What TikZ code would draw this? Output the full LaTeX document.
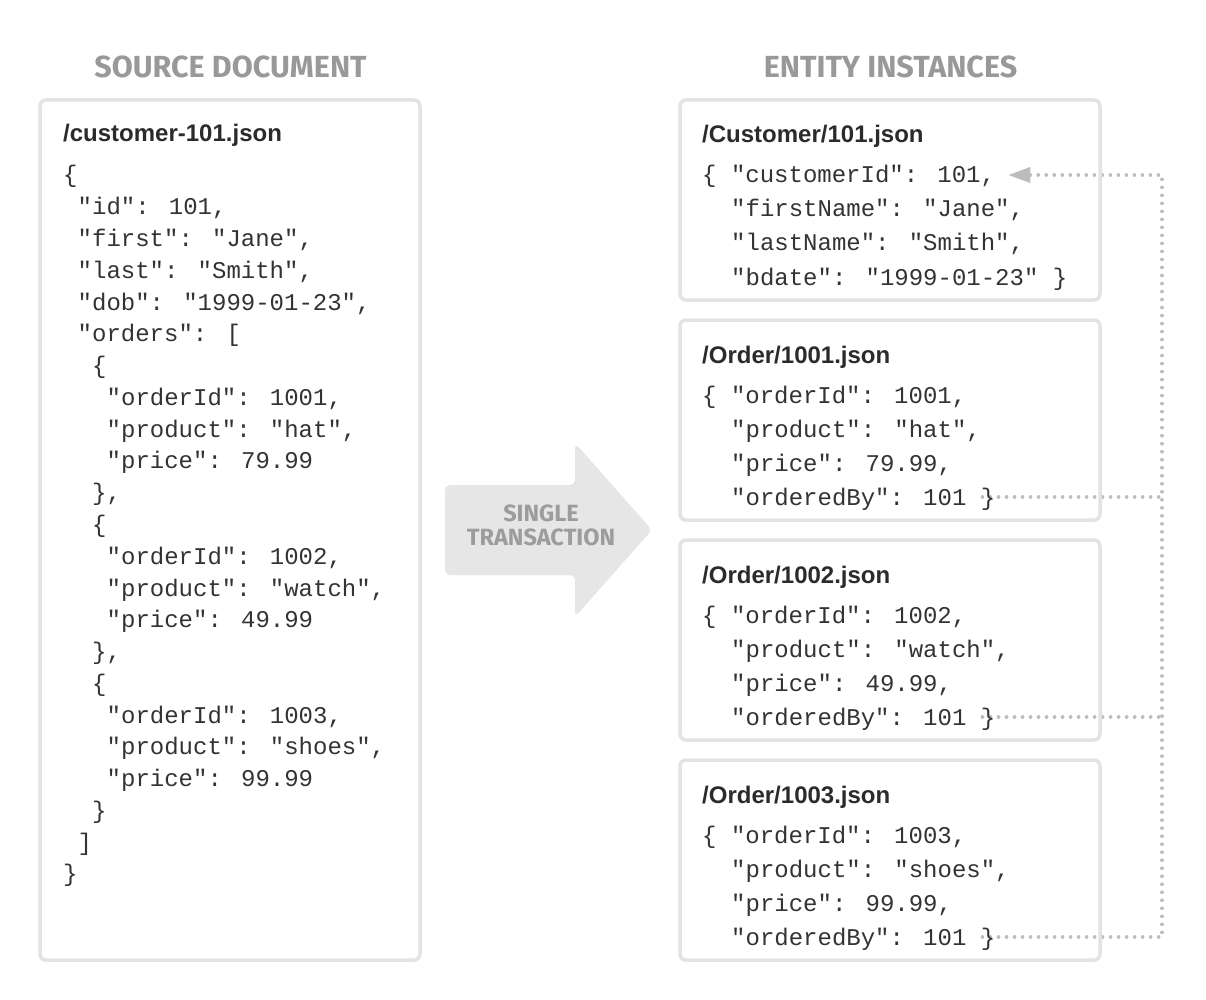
\documentclass[tikz,border=0pt]{standalone}
\usepackage{fontspec}
\setmainfont{Liberation Sans}
\newfontfamily\monof{Liberation Mono}
\newfontfamily\headf{Fira Sans}
\usetikzlibrary{arrows.meta,backgrounds}
\definecolor{boxline}{HTML}{E3E3E3}
\definecolor{codec}{HTML}{333333}
\definecolor{titlec}{HTML}{2B2B2B}
\definecolor{headc}{HTML}{999999}
\definecolor{arrowfill}{HTML}{E6E6E6}
\definecolor{arrowtext}{HTML}{9C9C9C}
\definecolor{connc}{HTML}{BDBDBD}
% source line: name, indent, line index, text
\newcommand\srcl[4]{\node[code] (#1) at ({63+14.5*#2},{183+31.77*#3}) {#4};}
% entity line: name, box index, line index, indent, text
\newcommand\entl[5]{\node[code] (#1) at ({702+14.5*#4},{183+220*#2+34*#3}) {#5};}
\begin{document}
\begin{tikzpicture}[x=1pt,y=-1pt,
  panel/.style={draw=boxline,line width=3.5pt,rounded corners=6pt,inner sep=0pt,outer sep=0pt,anchor=north west},
  head/.style={font=\headf\bfseries\fontsize{30.5}{30.5}\selectfont,text=headc,inner sep=0pt,anchor=base},
  title/.style={font=\bfseries\fontsize{24}{24}\selectfont,text=titlec,inner sep=0pt,anchor=base west},
  code/.style={font=\monof\fontsize{24}{24}\selectfont,text=codec,inner sep=0pt,anchor=base west},
  arrtext/.style={font=\headf\bfseries\fontsize{23.5}{24}\selectfont,text=arrowtext,align=center,inner sep=0pt},
  conn/.style={draw=connc,line width=3.6pt,line cap=round,dash pattern=on 0.01pt off 8pt}]
\useasboundingbox (0,0) rectangle (1206,1000);

% headers
\node[head] (hsrc) at (230.5,78) {SOURCE DOCUMENT};
\node[head] (hent) at (890.5,78) {ENTITY INSTANCES};

% panels
\node[panel,minimum width=380pt,minimum height=860pt] (src) at (40,100) {};
\node[panel,minimum width=420pt,minimum height=200pt] (cust) at (680,100) {};
\node[panel,minimum width=420pt,minimum height=200pt] (ord1) at (680,320) {};
\node[panel,minimum width=420pt,minimum height=200pt] (ord2) at (680,540) {};
\node[panel,minimum width=420pt,minimum height=200pt] (ord3) at (680,760) {};

% big arrow
\fill[arrowfill,rounded corners=5pt] (445,485) -- (575,485) -- (575,443) -- (652,530) -- (575,617) -- (575,575) -- (445,575) -- cycle;
\node[arrtext] (trans) at (541,525) {SINGLE\\TRANSACTION};

% source document
\node[title] (srct) at (63,142) {/customer-101.json};
\srcl{s0}{0}{0}{\{}
\srcl{s1}{1}{1}{"id": 101,}
\srcl{s2}{1}{2}{"first": "Jane",}
\srcl{s3}{1}{3}{"last": "Smith",}
\srcl{s4}{1}{4}{"dob": "1999-01-23",}
\srcl{s5}{1}{5}{"orders": [}
\srcl{s6}{2}{6}{\{}
\srcl{s7}{3}{7}{"orderId": 1001,}
\srcl{s8}{3}{8}{"product": "hat",}
\srcl{s9}{3}{9}{"price": 79.99}
\srcl{s10}{2}{10}{\},}
\srcl{s11}{2}{11}{\{}
\srcl{s12}{3}{12}{"orderId": 1002,}
\srcl{s13}{3}{13}{"product": "watch",}
\srcl{s14}{3}{14}{"price": 49.99}
\srcl{s15}{2}{15}{\},}
\srcl{s16}{2}{16}{\{}
\srcl{s17}{3}{17}{"orderId": 1003,}
\srcl{s18}{3}{18}{"product": "shoes",}
\srcl{s19}{3}{19}{"price": 99.99}
\srcl{s20}{2}{20}{\}}
\srcl{s21}{1}{21}{]}
\srcl{s22}{0}{22}{\}}

% customer
\node[title] (ct) at (702,143) {/Customer/101.json};
\entl{c0}{0}{0}{0}{\{ "customerId": 101,}
\entl{c1}{0}{1}{2}{"firstName": "Jane",}
\entl{c2}{0}{2}{2}{"lastName": "Smith",}
\entl{c3}{0}{3}{2}{"bdate": "1999-01-23" \}}

% order 1001
\node[title] (o1t) at (702,363) {/Order/1001.json};
\entl{a0}{1}{0}{0}{\{ "orderId": 1001,}
\entl{a1}{1}{1}{2}{"product": "hat",}
\entl{a2}{1}{2}{2}{"price": 79.99,}
\entl{a3}{1}{3}{2}{"orderedBy": 101 \}}

% order 1002
\node[title] (o2t) at (702,583) {/Order/1002.json};
\entl{b0}{2}{0}{0}{\{ "orderId": 1002,}
\entl{b1}{2}{1}{2}{"product": "watch",}
\entl{b2}{2}{2}{2}{"price": 49.99,}
\entl{b3}{2}{3}{2}{"orderedBy": 101 \}}

% order 1003
\node[title] (o3t) at (702,803) {/Order/1003.json};
\entl{d0}{3}{0}{0}{\{ "orderId": 1003,}
\entl{d1}{3}{1}{2}{"product": "shoes",}
\entl{d2}{3}{2}{2}{"price": 99.99,}
\entl{d3}{3}{3}{2}{"orderedBy": 101 \}}

% connectors
\coordinate (tip) at ([xshift=13pt,yshift=8pt]c0.base east);
\coordinate (st1) at ([xshift=-13pt,yshift=8pt]a3.base east);
\coordinate (st2) at ([xshift=-13pt,yshift=8pt]b3.base east);
\coordinate (st3) at ([xshift=-13pt,yshift=8pt]d3.base east);
\coordinate (bus) at (1162,0);
\begin{scope}[on background layer]
\fill[white] (0,0) rectangle (1206,1000);
\draw[conn,-{Triangle[length=22pt,width=15pt]}] (st3) -| (bus |- tip) -- (tip);
\draw[conn] (st1) -- (bus |- st1);
\draw[conn] (st2) -- (bus |- st2);
\end{scope}
\end{tikzpicture}
\end{document}
